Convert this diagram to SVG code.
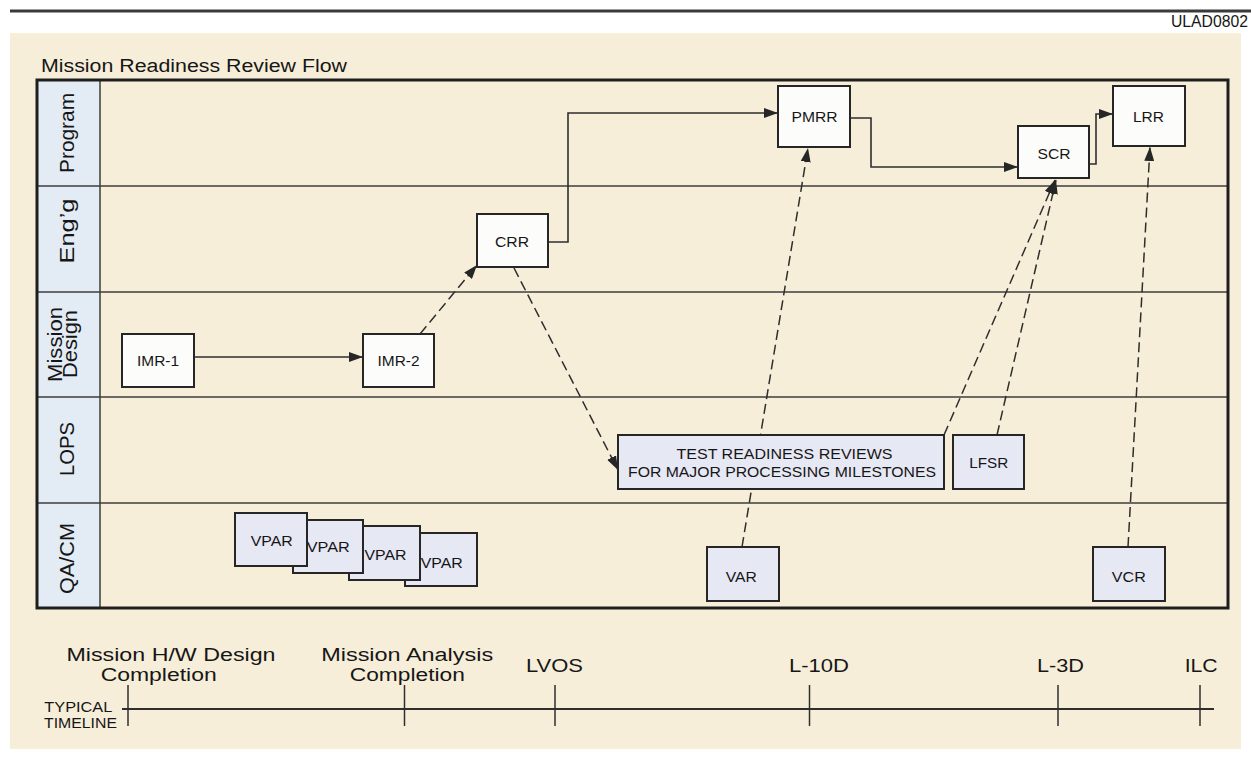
<svg xmlns="http://www.w3.org/2000/svg" width="1251" height="757" viewBox="0 0 1251 757">
  <defs>
    <style>
      .t { font-family: "Liberation Sans", Arial, Helvetica, sans-serif; fill: #161616; }
      .node { stroke: #262626; stroke-width: 2; }
      .plain { fill: #fcfcfb; }
      .tint { fill: #e6e8f4; }
      .lbl { font-size: 15px; text-anchor: middle; }
      .lane { font-size: 20px; text-anchor: middle; }
      .tl { font-size: 18px; text-anchor: middle; }
      .solid { fill: none; stroke: #2e2e2e; stroke-width: 1.6; }
      .dash { fill: none; stroke: #2e2e2e; stroke-width: 1.5; stroke-dasharray: 10 5; }
      .div { stroke: #3c3c3c; stroke-width: 1.5; }
    </style>
    <marker id="arr" markerUnits="userSpaceOnUse" markerWidth="15" markerHeight="10" refX="14" refY="5" orient="auto">
      <path d="M0,0 L14,5 L0,10 z" fill="#262626"/>
    </marker>
  </defs>

  <!-- page -->
  <rect x="0" y="0" width="1251" height="757" fill="#ffffff"/>
  <rect x="10" y="33" width="1231" height="716" fill="#f6eed9"/>
  <line x1="10" y1="11" x2="1251" y2="11" stroke="#3a3a3a" stroke-width="3"/>
  <text class="t" x="1248" y="27" font-size="16" text-anchor="end" fill="#444" textLength="77" lengthAdjust="spacingAndGlyphs">ULAD0802</text>

  <text class="t" x="41" y="72" font-size="18" textLength="306" lengthAdjust="spacingAndGlyphs">Mission Readiness Review Flow</text>

  <!-- swimlane frame -->
  <g id="lanes">
    <rect x="38" y="81" width="62" height="526" fill="#e3ebf4"/>
    <line x1="100" y1="81" x2="100" y2="607" class="div"/>
    <line x1="37" y1="186" x2="1228" y2="186" class="div"/>
    <line x1="37" y1="292" x2="1228" y2="292" class="div"/>
    <line x1="37" y1="397" x2="1228" y2="397" class="div"/>
    <line x1="37" y1="503" x2="1228" y2="503" class="div"/>
    <rect x="37" y="80" width="1191" height="528" fill="none" stroke="#1e1e1e" stroke-width="3"/>
    <text class="t lane" transform="translate(74,133) rotate(-90)" textLength="80" lengthAdjust="spacingAndGlyphs">Program</text>
    <text class="t lane" transform="translate(74,231) rotate(-90)" textLength="65" lengthAdjust="spacingAndGlyphs">Eng’g</text>
    <text class="t lane" font-size="17" transform="translate(61.5,344.5) rotate(-90)" textLength="75" lengthAdjust="spacingAndGlyphs">Mission</text>
    <text class="t lane" font-size="17" transform="translate(77,344) rotate(-90)" textLength="68" lengthAdjust="spacingAndGlyphs">Design</text>
    <text class="t lane" transform="translate(74,449) rotate(-90)" textLength="54" lengthAdjust="spacingAndGlyphs">LOPS</text>
    <text class="t lane" transform="translate(74,558.5) rotate(-90)" textLength="71" lengthAdjust="spacingAndGlyphs">QA/CM</text>
  </g>

  <!-- connectors -->
  <g id="connectors">
    <path class="solid" d="M194,357 H363" marker-end="url(#arr)"/>
    <path class="solid" d="M548,242 H568 V113 H778" marker-end="url(#arr)"/>
    <path class="solid" d="M850,118 H871 V167 H1018" marker-end="url(#arr)"/>
    <path class="solid" d="M1089,164 H1096 V114 H1113" marker-end="url(#arr)"/>
    <path class="dash" d="M420,334 L477,265" marker-end="url(#arr)"/>
    <path class="dash" d="M514,268 L618,470" marker-end="url(#arr)"/>
    <path class="dash" d="M742,547 L808,148" marker-end="url(#arr)"/>
    <path class="dash" d="M944,435 L1055,180" marker-end="url(#arr)"/>
    <path class="dash" d="M997,435 L1056,180" marker-end="url(#arr)"/>
    <path class="dash" d="M1128,547 L1150,147" marker-end="url(#arr)"/>
  </g>

  <!-- review nodes -->
  <g id="imr1"><rect class="node plain" x="122" y="334" width="72" height="53"/><text class="t lbl" x="158" y="366" textLength="42" lengthAdjust="spacingAndGlyphs">IMR-1</text></g>
  <g id="imr2"><rect class="node plain" x="363" y="334" width="71" height="53"/><text class="t lbl" x="398.5" y="366" textLength="42" lengthAdjust="spacingAndGlyphs">IMR-2</text></g>
  <g id="crr"><rect class="node plain" x="477" y="214" width="71" height="53"/><text class="t lbl" x="512" y="247" textLength="34" lengthAdjust="spacingAndGlyphs">CRR</text></g>
  <g id="pmrr"><rect class="node plain" x="778" y="86" width="72" height="61"/><text class="t lbl" x="814.5" y="122" textLength="46" lengthAdjust="spacingAndGlyphs">PMRR</text></g>
  <g id="scr"><rect class="node plain" x="1018" y="126" width="71" height="52"/><text class="t lbl" x="1054" y="158.5" textLength="33" lengthAdjust="spacingAndGlyphs">SCR</text></g>
  <g id="lrr"><rect class="node plain" x="1113" y="86" width="72" height="60"/><text class="t lbl" x="1148.5" y="122" textLength="31" lengthAdjust="spacingAndGlyphs">LRR</text></g>

  <g id="trr">
    <rect class="node tint" x="618" y="435" width="326" height="54"/>
    <text class="t lbl" x="784.5" y="458.5" font-size="16" textLength="216" lengthAdjust="spacingAndGlyphs">TEST READINESS REVIEWS</text>
    <text class="t lbl" x="782" y="477" font-size="16" textLength="308" lengthAdjust="spacingAndGlyphs">FOR MAJOR PROCESSING MILESTONES</text>
  </g>
  <g id="lfsr"><rect class="node tint" x="953" y="435" width="71" height="54"/><text class="t lbl" x="988.8" y="468" textLength="39" lengthAdjust="spacingAndGlyphs">LFSR</text></g>
  <g id="var"><rect class="node tint" x="707" y="547" width="72" height="54"/><text class="t lbl" x="741.2" y="581.5" textLength="31" lengthAdjust="spacingAndGlyphs">VAR</text></g>
  <g id="vcr"><rect class="node tint" x="1093" y="547" width="72" height="54"/><text class="t lbl" x="1128.8" y="581.5" textLength="34" lengthAdjust="spacingAndGlyphs">VCR</text></g>

  <!-- stacked VPAR reviews, first one on top -->
  <g id="vpar4"><rect class="node tint" x="405" y="533" width="72" height="53"/><text class="t lbl" x="441.7" y="567.5" textLength="42" lengthAdjust="spacingAndGlyphs">VPAR</text></g>
  <g id="vpar3"><rect class="node tint" x="349" y="526" width="71" height="54"/><text class="t lbl" x="385.5" y="560" textLength="42" lengthAdjust="spacingAndGlyphs">VPAR</text></g>
  <g id="vpar2"><rect class="node tint" x="293" y="520" width="70" height="53"/><text class="t lbl" x="328.3" y="551.7" textLength="43" lengthAdjust="spacingAndGlyphs">VPAR</text></g>
  <g id="vpar1"><rect class="node tint" x="235" y="513" width="72" height="53"/><text class="t lbl" x="271.8" y="545.5" textLength="42" lengthAdjust="spacingAndGlyphs">VPAR</text></g>

  <!-- typical timeline -->
  <g id="timeline">
    <line x1="122" y1="709" x2="1214" y2="709" stroke="#2e2e2e" stroke-width="1.8"/>
    <g stroke="#2e2e2e" stroke-width="1.5">
      <line x1="128" y1="685" x2="128" y2="726"/>
      <line x1="404.5" y1="685" x2="404.5" y2="726"/>
      <line x1="555" y1="685" x2="555" y2="726"/>
      <line x1="809.5" y1="685" x2="809.5" y2="726"/>
      <line x1="1058" y1="685" x2="1058" y2="726"/>
      <line x1="1200" y1="685" x2="1200" y2="726"/>
    </g>
    <text class="t" x="44.3" y="712" font-size="15" textLength="68" lengthAdjust="spacingAndGlyphs">TYPICAL</text>
    <text class="t" x="44" y="728" font-size="15" textLength="73" lengthAdjust="spacingAndGlyphs">TIMELINE</text>
    <text class="t tl" x="171" y="660.5" textLength="209" lengthAdjust="spacingAndGlyphs">Mission H/W Design</text>
    <text class="t tl" x="158.7" y="681" textLength="116" lengthAdjust="spacingAndGlyphs">Completion</text>
    <text class="t tl" x="407.2" y="660.5" textLength="172" lengthAdjust="spacingAndGlyphs">Mission Analysis</text>
    <text class="t tl" x="407.3" y="681" textLength="115" lengthAdjust="spacingAndGlyphs">Completion</text>
    <text class="t tl" font-size="20" x="554.5" y="671.5" textLength="57" lengthAdjust="spacingAndGlyphs">LVOS</text>
    <text class="t tl" font-size="20" x="819" y="671.5" textLength="60" lengthAdjust="spacingAndGlyphs">L-10D</text>
    <text class="t tl" font-size="20" x="1060.5" y="671.5" textLength="47" lengthAdjust="spacingAndGlyphs">L-3D</text>
    <text class="t tl" font-size="20" x="1201.2" y="671.5" textLength="33" lengthAdjust="spacingAndGlyphs">ILC</text>
  </g>
</svg>
